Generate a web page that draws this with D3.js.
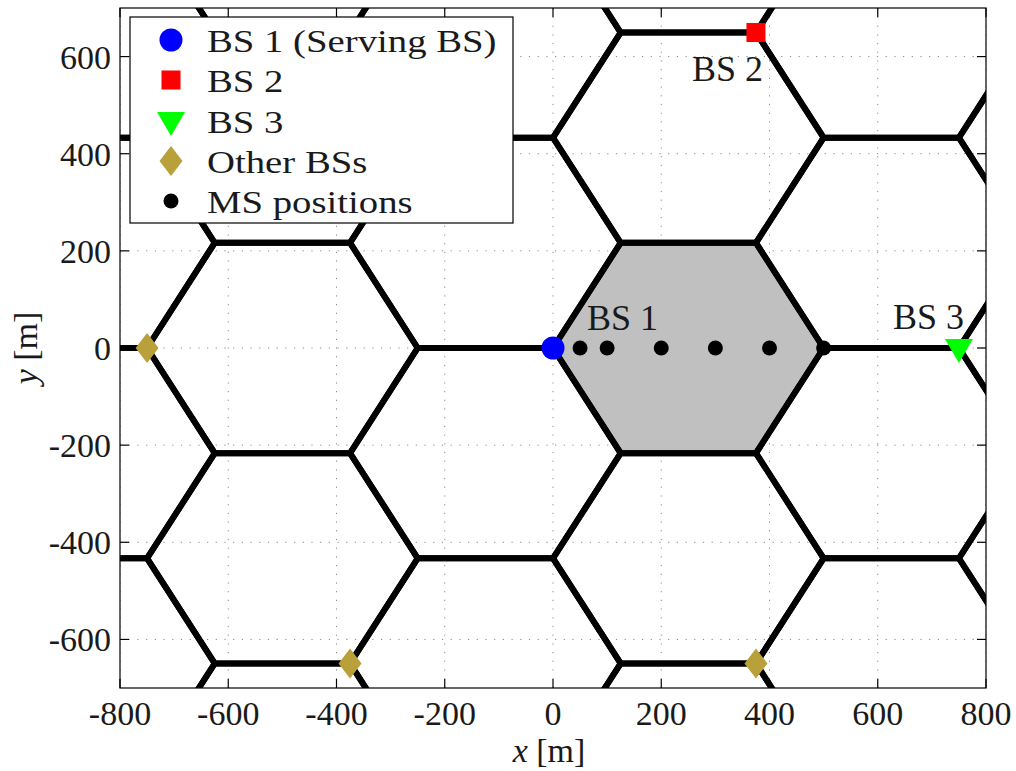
<!DOCTYPE html>
<html>
<head>
<meta charset="utf-8">
<script src="https://cdn.jsdelivr.net/npm/d3@7"></script>
<style>
  html, body { margin: 0; padding: 0; background: #fff; }
  svg { display: block; }
  text { font-family: "Liberation Serif", "Times New Roman", serif; fill: #1a1a1a; }
</style>
</head>
<body>
<svg id="chart" width="1016" height="771"></svg>
<script>
// ---------------- data ----------------
const xTicks = [-800, -600, -400, -200, 0, 200, 400, 600, 800];
const yTicks = [-600, -400, -200, 0, 200, 400, 600];
const xDomain = [-800, 800];
const yDomain = [-700, 700];

const cellRadius = 250;
// hexagonal cell centres (m)
const cellX = [-875, -875, -875, -875,
               -500, -500, -500, -500, -500,
               -125, -125, -125, -125,
                250,  250,  250,  250,  250,
                625,  625,  625,  625,
               1000, 1000, 1000, 1000, 1000];
const cellY = [-649.5, -216.5, 216.5, 649.5,
               -866, -433, 0, 433, 866,
               -649.5, -216.5, 216.5, 649.5,
               -866, -433, 0, 433, 866,
               -649.5, -216.5, 216.5, 649.5,
               -866, -433, 0, 433, 866];
const servingCellX = 250, servingCellY = 0;

const bs1 = [0, 0];
const bs2 = [375, 649.5];
const bs3 = [750, 0];
const otherBsX = [-750, -375, -375, 375];
const otherBsY = [0, -649.5, 649.5, -649.5];
const msX = [50, 100, 200, 300, 400, 500];
const msY = [0, 0, 0, 0, 0, 0];

const legendLabels = ["BS 1 (Serving BS)", "BS 2", "BS 3", "Other BSs", "MS positions"];
const bsLabels = ["BS 1", "BS 2", "BS 3"];

// ---------------- layout ----------------
const svg = d3.select("#chart");
const L = 120, T = 8, R = 986, B = 688;
const x = d3.scaleLinear().domain(xDomain).range([L, R]);
const y = d3.scaleLinear().domain(yDomain).range([B, T]);

const colBlue = "#0000ff", colRed = "#ff0000", colGreen = "#00ff00", colOlive = "#b9a03b";

svg.append("defs").append("clipPath").attr("id", "clip")
  .append("rect").attr("x", L).attr("y", T).attr("width", R - L).attr("height", B - T);

const plot = svg.append("g").attr("clip-path", "url(#clip)");

// grid
const grid = plot.append("g").attr("stroke", "#8a8a8a").attr("stroke-width", 1)
  .attr("stroke-dasharray", "1.2,7.5");
grid.selectAll("line.gx").data(xTicks).join("line")
  .attr("x1", d => x(d)).attr("x2", d => x(d)).attr("y1", B).attr("y2", T);
grid.selectAll("line.gy").data(yTicks).join("line")
  .attr("y1", d => y(d)).attr("y2", d => y(d)).attr("x1", L).attr("x2", R);

function hexPoints(cx, cy) {
  const pts = [];
  for (let k = 0; k < 6; k++) {
    const a = k * Math.PI / 3;
    pts.push([x(cx + cellRadius * Math.cos(a)), y(cy + cellRadius * Math.sin(a))]);
  }
  return pts;
}
const line = d3.line().curve(d3.curveLinearClosed);

// serving cell fill
plot.append("path").attr("d", line(hexPoints(servingCellX, servingCellY)))
  .attr("fill", "#c0c0c0").attr("stroke", "none");

// hex grid
plot.append("g").selectAll("path").data(cellX.map((cx, i) => [cx, cellY[i]])).join("path")
  .attr("d", d => line(hexPoints(d[0], d[1])))
  .attr("fill", "none").attr("stroke", "#000").attr("stroke-width", 6)
  .attr("stroke-linejoin", "miter");

// markers
const sym = {
  circle: g => g.append("circle").attr("r", 11.5).attr("fill", colBlue),
  square: g => g.append("rect").attr("x", -9.5).attr("y", -9.5).attr("width", 19).attr("height", 19).attr("fill", colRed),
  tri: g => g.append("path").attr("d", "M-14,-9L14,-9L0,15Z").attr("fill", colGreen),
  diamond: g => g.append("path").attr("d", "M0,-15L11.5,0L0,15L-11.5,0Z").attr("fill", colOlive),
  dot: g => g.append("circle").attr("r", 7.5).attr("fill", "#000")
};
const marks = plot.append("g");
msX.forEach((mx, i) => sym.dot(marks.append("g").attr("transform", `translate(${x(mx)},${y(msY[i])})`)));
otherBsX.forEach((bx, i) => sym.diamond(marks.append("g").attr("transform", `translate(${x(bx)},${y(otherBsY[i])})`)));
sym.tri(marks.append("g").attr("transform", `translate(${x(bs3[0])},${y(bs3[1])})`));
sym.square(marks.append("g").attr("transform", `translate(${x(bs2[0])},${y(bs2[1])})`));
sym.circle(marks.append("g").attr("transform", `translate(${x(bs1[0])},${y(bs1[1])})`));

// BS labels
const lab = svg.append("g").style("font-size", "36px");
lab.append("text").attr("x", x(bs1[0]) + 34).attr("y", y(bs1[1]) - 18).text(bsLabels[0]);
lab.append("text").attr("x", x(bs2[0]) + 7).attr("y", y(bs2[1]) + 48).attr("text-anchor", "end").text(bsLabels[1]);
lab.append("text").attr("x", x(bs3[0]) + 5).attr("y", y(bs3[1]) - 19).attr("text-anchor", "end").text(bsLabels[2]);

// axes frame + ticks
const ax = svg.append("g").attr("stroke", "#000").attr("stroke-width", 1.2);
ax.append("rect").attr("x", L).attr("y", T).attr("width", R - L).attr("height", B - T).attr("fill", "none");
const tl = 9;
ax.selectAll("line.xb").data(xTicks).join("line").attr("x1", d => x(d)).attr("x2", d => x(d)).attr("y1", B).attr("y2", B - tl);
ax.selectAll("line.xt").data(xTicks).join("line").attr("x1", d => x(d)).attr("x2", d => x(d)).attr("y1", T).attr("y2", T + tl);
ax.selectAll("line.yl").data(yTicks).join("line").attr("y1", d => y(d)).attr("y2", d => y(d)).attr("x1", L).attr("x2", L + tl);
ax.selectAll("line.yr").data(yTicks).join("line").attr("y1", d => y(d)).attr("y2", d => y(d)).attr("x1", R).attr("x2", R - tl);

const tk = svg.append("g").style("font-size", "34px");
tk.selectAll("text.xt").data(xTicks).join("text")
  .attr("x", d => x(d)).attr("y", 725).attr("text-anchor", "middle").text(d => d);
tk.selectAll("text.yt").data(yTicks).join("text")
  .attr("x", 111).attr("y", d => y(d) + 12).attr("text-anchor", "end").text(d => d);

// axis labels
const xl = svg.append("text").attr("x", 549).attr("y", 762).attr("text-anchor", "middle").style("font-size", "34px");
xl.append("tspan").style("font-style", "italic").text("x");
xl.append("tspan").text(" [m]");
const yl = svg.append("text").attr("transform", "translate(37,348) rotate(-90)").attr("text-anchor", "middle").style("font-size", "34px");
yl.append("tspan").style("font-style", "italic").text("y");
yl.append("tspan").text(" [m]");

// legend
const lg = svg.append("g");
lg.append("rect").attr("x", 130).attr("y", 17).attr("width", 383).attr("height", 206)
  .attr("fill", "#fff").attr("stroke", "#000").attr("stroke-width", 1.2);
const legSyms = [sym.circle, sym.square, sym.tri, sym.diamond, sym.dot];
const legCy = [40, 80, 121, 161, 201];
legendLabels.forEach((t, i) => {
  legSyms[i](lg.append("g").attr("transform", `translate(171,${legCy[i]})`));
  lg.append("text").attr("transform", `translate(207,${legCy[i] + 12}) scale(1.25,1)`)
    .style("font-size", "31px").text(t);
});
</script>
</body>
</html>
